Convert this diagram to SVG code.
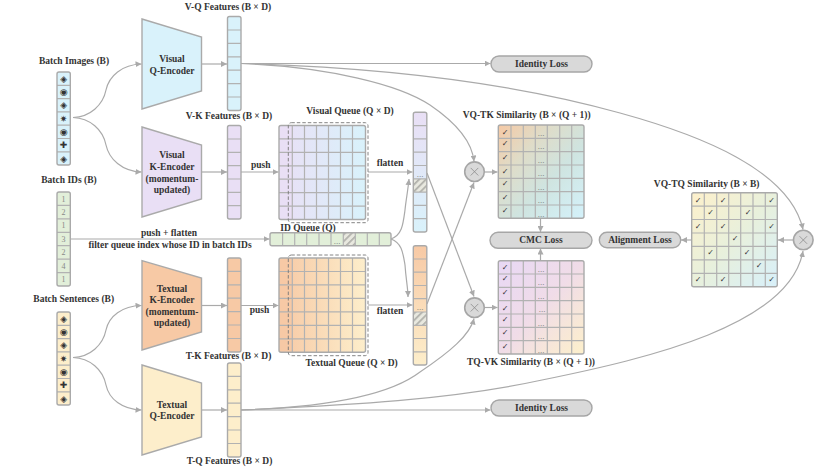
<svg xmlns="http://www.w3.org/2000/svg" width="830" height="467" viewBox="0 0 830 467">
<style>
text{font-family:"Liberation Serif","Times New Roman",serif;font-weight:bold;font-size:9.5px;fill:#333;text-anchor:middle}
.g{stroke:#b2b2b2;stroke-width:1.2;fill:none}
.o{stroke:#aaa;stroke-width:1.4;fill:none}
.t{stroke:#aaa;stroke-width:1.4}
.c{fill:none;stroke:#aaa;stroke-width:1.2;marker-end:url(#arrow)}
.pill{fill:#d9d9d9;stroke:#a6a6a6;stroke-width:1.4}
.dash{fill:none;stroke:#777;stroke-width:.9;stroke-dasharray:3.500 2}
.ck{font-family:"DejaVu Sans",sans-serif;font-weight:normal;font-size:8px;fill:#333}
.ic{font-family:"DejaVu Sans",sans-serif;font-weight:normal;font-size:9px;fill:#333}
.num{font-weight:normal;font-size:8px;fill:#888}
.dots{font-weight:normal;font-size:9px;fill:#777}
.x{fill:#d9d9d9;stroke:#a6a6a6;stroke-width:1.6}
.xm{stroke:#8c8c8c;stroke-width:.8;fill:none}
</style>
<defs>
<marker id="arrow" markerUnits="userSpaceOnUse" markerWidth="7" markerHeight="6" refX="6" refY="3" orient="auto"><path d="M0,0L6,3L0,6z" fill="#aaa"/></marker>
<pattern id="hatch" patternUnits="userSpaceOnUse" width="4.800" height="4.800" patternTransform="rotate(45)"><rect width="4.800" height="4.800" fill="#e8e8df"/><rect width="1.700" height="4.800" fill="#b0b0aa"/></pattern>
<linearGradient id="vq" x1="0" x2="1" y1="0" y2="0"><stop offset="0" stop-color="#e9dff5"/><stop offset="1" stop-color="#d9f2fb"/></linearGradient>
<linearGradient id="tq" x1="0" x2="1" y1="0" y2="0"><stop offset="0" stop-color="#f7c9a5"/><stop offset="1" stop-color="#fdeecb"/></linearGradient>
<linearGradient id="vc" x1="0" x2="0" y1="0" y2="1"><stop offset="0" stop-color="#e9dff5"/><stop offset="1" stop-color="#d9f2fb"/></linearGradient>
<linearGradient id="tc" x1="0" x2="0" y1="0" y2="1"><stop offset="0" stop-color="#f7c9a5"/><stop offset="1" stop-color="#fdeecb"/></linearGradient>
<linearGradient id="m1" x1="0" x2="1" y1="0" y2="1"><stop offset="0" stop-color="#f6c9a5"/><stop offset=".3" stop-color="#dfdcc8"/><stop offset=".6" stop-color="#cfe4e0"/><stop offset="1" stop-color="#d4f2fb"/></linearGradient>
<linearGradient id="m2" x1="0" x2="1" y1="0" y2="1"><stop offset="0" stop-color="#e8d8f5"/><stop offset=".5" stop-color="#f0dce8"/><stop offset="1" stop-color="#fdf0cb"/></linearGradient>
<linearGradient id="m3" x1="0" x2="1" y1="0" y2="1"><stop offset="0" stop-color="#fdf0cb"/><stop offset=".5" stop-color="#e8f0dc"/><stop offset="1" stop-color="#d8f0fa"/></linearGradient>
</defs>

<g id="connectors">
<path class="c" d="M73,117.500C90,117 103,105 106,90C109,76 122,64.500 141.500,64"/>
<path class="c" d="M73,117.500C90,118 103,130 106,145C109,159 122,171.500 141.500,172"/>
<path class="c" d="M73,357.500C90,357 103,345 106,330C109,316 122,306 141.500,305.500"/>
<path class="c" d="M73,357.500C90,358 103,370 106,385C109,399 122,409.500 141.500,410"/>
<path class="c" d="M201.500,64H227"/>
<path class="c" d="M201.500,172H227"/>
<path class="c" d="M201.500,305.500H227"/>
<path class="c" d="M201.500,410H227"/>
<path class="c" d="M241,63.500H490.500"/>
<path class="c" d="M241,63.500C330,67 400,85 430,105C455,122 472,140 474,161.500"/>
<path class="c" d="M241,63.500C400,68 520,85 620,113C700,135 790,170 803,229.500"/>
<path class="c" d="M241,410H490.500"/>
<path class="c" d="M241,410C330,407 390,395 420,372C450,352 470,335 474,318.500"/>
<path class="c" d="M241,410C350,405 450,400 542,380C650,358 790,325 803,251"/>
<path class="c" d="M241,172H278.500"/>
<path class="c" d="M241,305.500H278.500"/>
<path class="c" d="M368,172H412.500"/>
<path class="c" d="M368,305H412.500"/>
<path class="c" d="M70,239H269.500"/>
<path class="c" d="M391,239C402,235 403,225 405,210C406,200 408,190 409,179"/>
<path class="c" d="M391,239C402,243 403,253 405,265C406,280 408,288 408,297"/>
<path class="c" d="M427,173L474,296.500"/>
<path class="c" d="M427,304L474,182.500"/>
<path class="c" d="M485,172H497.500"/>
<path class="c" d="M485,307.500H497.500"/>
<path class="c" d="M540.500,218.500V232"/>
<path class="c" d="M540.500,260.500V248.500"/>
<path class="c" d="M793,240H778"/>
<path class="c" d="M691.500,240H681"/>
</g>

<g id="batch-images">
<text x="74" y="63.500">Batch Images (B)</text>
<rect x="57" y="72" width="13.300" height="93" rx="2" fill="#d9f2fb"/>
<path class="g" d="M57,85.300h13.300M57,98.600h13.300M57,111.900h13.300M57,125.200h13.300M57,138.500h13.300M57,151.800h13.300"/>
<rect class="o" x="57" y="72" width="13.300" height="93" rx="2"/>
<text class="ic" x="63.600" y="81.800">◈</text><text class="ic" x="63.600" y="95">◉</text><text class="ic" x="63.600" y="108.300">◈</text><text class="ic" x="63.600" y="121.600">✷</text><text class="ic" x="63.600" y="135">◉</text><text class="ic" x="63.600" y="148.200">✚</text><text class="ic" x="63.600" y="161.500">◈</text>
</g>

<g id="batch-ids">
<text x="69" y="183">Batch IDs (B)</text>
<rect x="57" y="192" width="13.300" height="94" rx="2" fill="#e2efd9"/>
<path class="g" d="M57,205.400h13.300M57,218.800h13.300M57,232.300h13.300M57,245.700h13.300M57,259.100h13.300M57,272.600h13.300"/>
<rect class="o" x="57" y="192" width="13.300" height="94" rx="2"/>
<text class="num" x="63.600" y="201.500">1</text><text class="num" x="63.600" y="214.900">2</text><text class="num" x="63.600" y="228.300">1</text><text class="num" x="63.600" y="241.800">3</text><text class="num" x="63.600" y="255.200">2</text><text class="num" x="63.600" y="268.600">4</text><text class="num" x="63.600" y="282">1</text>
</g>

<g id="batch-sentences">
<text x="73.700" y="302">Batch Sentences (B)</text>
<rect x="57" y="312" width="13.300" height="93" rx="2" fill="#fdeecb"/>
<path class="g" d="M57,325.300h13.300M57,338.600h13.300M57,351.900h13.300M57,365.200h13.300M57,378.500h13.300M57,391.800h13.300"/>
<rect class="o" x="57" y="312" width="13.300" height="93" rx="2"/>
<text class="ic" x="63.600" y="321.800">◈</text><text class="ic" x="63.600" y="335">◉</text><text class="ic" x="63.600" y="348.300">◈</text><text class="ic" x="63.600" y="361.600">✷</text><text class="ic" x="63.600" y="375">◉</text><text class="ic" x="63.600" y="388.200">✚</text><text class="ic" x="63.600" y="401.500">◈</text>
</g>

<g id="visual-q-encoder">
<path class="t" d="M142,19L201.500,37V91L142,109z" fill="#d9f2fb"/>
<text x="172" y="62">Visual</text><text x="172" y="73.500">Q-Encoder</text>
</g>
<g id="visual-k-encoder">
<path class="t" d="M142,127L201.500,145V199L142,217z" fill="#e9dff5"/>
<text x="172" y="158">Visual</text><text x="172" y="170">K-Encoder</text><text x="172" y="181.500">(momentum-</text><text x="172" y="193">updated)</text>
</g>
<g id="textual-k-encoder">
<path class="t" d="M142,260.700L201.500,278V332L142,350z" fill="#f7c9a5"/>
<text x="172" y="292">Textual</text><text x="172" y="303">K-Encoder</text><text x="172" y="315">(momentum-</text><text x="172" y="326">updated)</text>
</g>
<g id="textual-q-encoder">
<path class="t" d="M142,365L201.500,383V437L142,455z" fill="#fdeecb"/>
<text x="172" y="408">Textual</text><text x="172" y="419">Q-Encoder</text>
</g>

<g id="v-q-features">
<text x="228" y="9.500">V-Q Features (B × D)</text>
<rect x="227.500" y="16.500" width="13.500" height="94" rx="2" fill="#d9f2fb"/>
<path class="g" d="M227.500,30h13.500M227.500,43.400h13.500M227.500,56.800h13.500M227.500,70.200h13.500M227.500,83.600h13.500M227.500,97h13.500"/>
<rect class="o" x="227.500" y="16.500" width="13.500" height="94" rx="2"/>
</g>
<g id="v-k-features">
<text x="229" y="118.500">V-K Features (B × D)</text>
<rect x="227.500" y="125.500" width="13.500" height="93.500" rx="2" fill="#e9dff5"/>
<path class="g" d="M227.500,139h13.500M227.500,152.300h13.500M227.500,165.700h13.500M227.500,179h13.500M227.500,192.400h13.500M227.500,205.700h13.500"/>
<rect class="o" x="227.500" y="125.500" width="13.500" height="93.500" rx="2"/>
<text x="260.700" y="168">push</text>
</g>
<g id="t-k-features">
<text x="228.500" y="359">T-K Features (B × D)</text>
<rect x="227.500" y="258" width="13.500" height="94" rx="2" fill="#f7c9a5"/>
<path class="g" d="M227.500,271.400h13.500M227.500,284.800h13.500M227.500,298.200h13.500M227.500,311.600h13.500M227.500,325h13.500M227.500,338.500h13.500"/>
<rect class="o" x="227.500" y="258" width="13.500" height="94" rx="2"/>
<text x="259.500" y="313">push</text>
</g>
<g id="t-q-features">
<text x="229.500" y="464">T-Q Features (B × D)</text>
<rect x="227.500" y="363" width="13.500" height="94" rx="2" fill="#fdeecb"/>
<path class="g" d="M227.500,376.400h13.500M227.500,389.800h13.500M227.500,403.200h13.500M227.500,416.600h13.500M227.500,430h13.500M227.500,443.500h13.500"/>
<rect class="o" x="227.500" y="363" width="13.500" height="94" rx="2"/>
</g>

<g id="visual-queue">
<text x="350" y="113.500">Visual Queue (Q × D)</text>
<rect x="279" y="125.500" width="86.500" height="94" rx="2" fill="url(#vq)"/>
<rect x="279" y="125.500" width="13.300" height="94" rx="2" fill="#e9dff5"/>
<path class="g" d="M292.300,125.500v94M304.500,125.500v94M316.500,125.500v94M328.500,125.500v94M340.500,125.500v94M352.500,125.500v94M279,138.900h86.500M279,152.300h86.500M279,165.800h86.500M279,179.200h86.500M279,192.600h86.500M279,206.100h86.500"/>
<rect class="o" x="279" y="125.500" width="86.500" height="94" rx="2"/>
<rect class="dash" x="288.300" y="122.700" width="79.700" height="100" rx="3"/>
</g>

<g id="textual-queue">
<text x="351.700" y="366">Textual Queue (Q × D)</text>
<rect x="279" y="258" width="86.500" height="94.300" rx="2" fill="url(#tq)"/>
<rect x="279" y="258" width="13.300" height="94.300" rx="2" fill="#f7c9a5"/>
<path class="g" d="M292.300,258v94.300M304.500,258v94.300M316.500,258v94.300M328.500,258v94.300M340.500,258v94.300M352.500,258v94.300M279,271.500h86.500M279,284.900h86.500M279,298.400h86.500M279,311.900h86.500M279,325.300h86.500M279,338.800h86.500"/>
<rect class="o" x="279" y="258" width="86.500" height="94.300" rx="2"/>
<rect class="dash" x="288.300" y="255" width="79.700" height="100.700" rx="3"/>
</g>

<g id="id-queue">
<text x="308" y="231">ID Queue (Q)</text>
<rect x="270" y="232.700" width="121" height="13" rx="2" fill="#e2efd9"/>
<rect x="343" y="232.700" width="12" height="13" fill="url(#hatch)"/>
<path class="g" d="M282.600,232.700v13M294.700,232.700v13M306.700,232.700v13M319,232.700v13M331,232.700v13M343.300,232.700v13M355.300,232.700v13M367.300,232.700v13M379.300,232.700v13"/>
<rect class="o" x="270" y="232.700" width="121" height="13" rx="2"/>
<text class="dots" x="337" y="243.500">...</text>
</g>

<g id="visual-flatten">
<text x="390" y="166">flatten</text>
<rect x="413.300" y="112.300" width="13.500" height="119.700" rx="2" fill="url(#vc)"/>
<rect x="413.300" y="178.800" width="13.500" height="13.300" fill="url(#hatch)"/>
<path class="g" d="M413.300,125.600h13.500M413.300,138.900h13.500M413.300,152.200h13.500M413.300,165.500h13.500M413.300,178.800h13.500M413.300,192.100h13.500M413.300,205.400h13.500M413.300,218.700h13.500"/>
<rect class="o" x="413.300" y="112.300" width="13.500" height="119.700" rx="2"/>
<text class="dots" x="420" y="177">...</text>
</g>

<g id="textual-flatten">
<text x="390" y="314">flatten</text>
<rect x="413.300" y="245.700" width="13.500" height="119.300" rx="2" fill="url(#tc)"/>
<rect x="413.300" y="312" width="13.500" height="13.300" fill="url(#hatch)"/>
<path class="g" d="M413.300,259h13.500M413.300,272.200h13.500M413.300,285.500h13.500M413.300,298.700h13.500M413.300,312h13.500M413.300,325.300h13.500M413.300,338.500h13.500M413.300,351.800h13.500"/>
<rect class="o" x="413.300" y="245.700" width="13.500" height="119.300" rx="2"/>
<text class="dots" x="420" y="310">...</text>
</g>

<g id="multiply-top">
<circle class="x" cx="474.500" cy="171.700" r="9.800"/>
<path class="xm" d="M470.700,167.900l7.600,7.600M478.300,167.900l-7.600,7.600"/>
</g>
<g id="multiply-bottom">
<circle class="x" cx="474.500" cy="307.700" r="9.800"/>
<path class="xm" d="M470.700,303.900l7.600,7.600M478.300,303.900l-7.600,7.600"/>
</g>
<g id="multiply-right">
<circle class="x" cx="803.300" cy="240" r="9.800"/>
<path class="xm" d="M799.500,236.200l7.600,7.600M807.100,236.200l-7.600,7.600"/>
</g>

<g id="vq-tk-similarity">
<text x="526.700" y="117.500">VQ-TK Similarity (B × (Q + 1))</text>
<rect x="498.300" y="125" width="85.700" height="93.300" rx="2" fill="url(#m1)"/>
<path class="g" d="M511,125v93.300M523.300,125v93.300M535.300,125v93.300M547.300,125v93.300M559.700,125v93.300M571.700,125v93.300M498.300,138.300h85.700M498.300,151.700h85.700M498.300,165h85.700M498.300,178.300h85.700M498.300,191.600h85.700M498.300,205h85.700"/>
<rect class="o" x="498.300" y="125" width="85.700" height="93.300" rx="2"/>
<text class="ck" x="505" y="135">✓</text><text class="ck" x="505" y="146">✓</text><text class="ck" x="505" y="160">✓</text><text class="ck" x="505" y="174">✓</text><text class="ck" x="505" y="186">✓</text><text class="ck" x="505" y="200">✓</text><text class="ck" x="505" y="213">✓</text>
<text class="dots" x="541" y="136">...</text><text class="dots" x="541" y="149">...</text><text class="dots" x="541" y="163">...</text><text class="dots" x="541" y="176">...</text><text class="dots" x="541" y="190">...</text><text class="dots" x="541" y="203">...</text><text class="dots" x="541" y="217">...</text>
</g>

<g id="tq-vk-similarity">
<text x="531" y="365">TQ-VK Similarity (B × (Q + 1))</text>
<rect x="498.300" y="260.700" width="85.700" height="93.300" rx="2" fill="url(#m2)"/>
<path class="g" d="M511,260.700v93.300M523.300,260.700v93.300M535.300,260.700v93.300M547.300,260.700v93.300M559.700,260.700v93.300M571.700,260.700v93.300M498.300,274h85.700M498.300,287.400h85.700M498.300,300.700h85.700M498.300,314h85.700M498.300,327.300h85.700M498.300,340.700h85.700"/>
<rect class="o" x="498.300" y="260.700" width="85.700" height="93.300" rx="2"/>
<text class="ck" x="505" y="270">✓</text><text class="ck" x="505" y="281">✓</text><text class="ck" x="505" y="295">✓</text><text class="ck" x="505" y="311">✓</text><text class="ck" x="505" y="322">✓</text><text class="ck" x="505" y="335">✓</text><text class="ck" x="505" y="349">✓</text>
<text class="dots" x="541" y="272">...</text><text class="dots" x="541" y="285">...</text><text class="dots" x="541" y="299">...</text><text class="dots" x="542" y="312">...</text><text class="dots" x="541" y="326">...</text><text class="dots" x="541" y="339">...</text><text class="dots" x="541" y="353">...</text>
</g>

<g id="vq-tq-similarity">
<text x="706.700" y="186.500">VQ-TQ Similarity (B × B)</text>
<rect x="691.700" y="192.700" width="85.600" height="94" rx="2" fill="url(#m3)"/>
<path class="g" d="M704.300,192.700v94M716.700,192.700v94M728.700,192.700v94M740.700,192.700v94M753,192.700v94M765.300,192.700v94M691.700,206.100h85.600M691.700,219.500h85.600M691.700,233h85.600M691.700,246.400h85.600M691.700,259.800h85.600M691.700,273.300h85.600"/>
<rect class="o" x="691.700" y="192.700" width="85.600" height="94" rx="2"/>
<text class="ck" x="698" y="203">✓</text><text class="ck" x="723" y="203">✓</text><text class="ck" x="771.500" y="203">✓</text>
<text class="ck" x="710.500" y="215">✓</text><text class="ck" x="748" y="215">✓</text>
<text class="ck" x="698" y="229">✓</text><text class="ck" x="723" y="229">✓</text><text class="ck" x="771.500" y="229">✓</text>
<text class="ck" x="735" y="241">✓</text>
<text class="ck" x="710.500" y="255">✓</text><text class="ck" x="747" y="255">✓</text>
<text class="ck" x="759" y="268">✓</text>
<text class="ck" x="698" y="282">✓</text><text class="ck" x="723" y="282">✓</text><text class="ck" x="771.500" y="282">✓</text>
</g>

<g id="identity-loss-top">
<rect class="pill" x="491" y="56" width="101" height="16" rx="8"/>
<text x="541.500" y="67">Identity Loss</text>
</g>
<g id="cmc-loss">
<rect class="pill" x="490" y="232.300" width="102" height="16" rx="8"/>
<text x="541" y="243.300">CMC Loss</text>
</g>
<g id="alignment-loss">
<rect class="pill" x="599.300" y="232.300" width="81.400" height="15.500" rx="7.700"/>
<text x="640" y="243.300">Alignment Loss</text>
</g>
<g id="identity-loss-bottom">
<rect class="pill" x="491" y="400" width="101" height="16" rx="8"/>
<text x="541.500" y="411">Identity Loss</text>
</g>

<text x="169" y="236">push + flatten</text>
<text x="170" y="248">filter queue index whose ID in batch IDs</text>
</svg>
